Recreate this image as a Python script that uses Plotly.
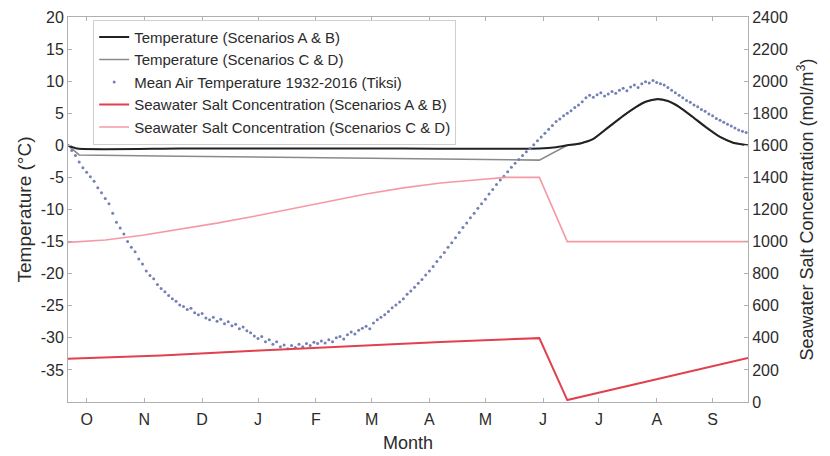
import plotly.graph_objects as go

# ---- data (x in days since 1 October) ----
month_tick_days = [10, 41, 72, 102, 133, 163, 194, 224, 255, 285, 316, 346]
month_labels = ["O", "N", "D", "J", "F", "M", "A", "M", "J", "J", "A", "S"]

temp_ticks = [-35, -30, -25, -20, -15, -10, -5, 0, 5, 10, 15, 20]
temp_tick_text = ["-35", "-30", "-25", "-20", "-15", "-10", "-5", "0", "5", "10", "15", "20"]

temp_ab_days = [0, 5, 60, 120, 180, 253, 262, 268, 275, 282, 290, 298, 305, 310, 316, 322, 328, 335, 342, 350, 357, 365]
temp_ab_vals = [0.0, -0.5, -0.5, -0.5, -0.5, -0.5, -0.3, 0.0, 0.3, 1.0, 2.8, 4.6, 6.0, 6.8, 7.2, 6.9, 6.0, 4.5, 2.9, 1.3, 0.4, 0.0]

temp_cd_days = [0, 6, 60, 120, 180, 253, 268, 275, 282, 290, 298, 305, 310, 316, 322, 328, 335, 342, 350, 357, 365]
temp_cd_vals = [0.0, -1.5, -1.7, -1.9, -2.1, -2.3, 0.0, 0.3, 1.0, 2.8, 4.6, 6.0, 6.8, 7.2, 6.9, 6.0, 4.5, 2.9, 1.3, 0.4, 0.0]

air_days = list(range(0, 365, 2))
air_vals = [
    0.0, -0.8, -1.6, -2.6, -3.5, -4.2, -4.9, -5.6, -6.6, -7.4,
    -8.3, -9.1, -10.6, -12.0, -12.9, -13.8, -15.0, -15.9, -16.6, -17.7,
    -18.5, -19.6, -20.3, -20.8, -21.7, -22.3, -22.8, -23.4, -23.9, -24.3,
    -24.9, -25.1, -25.6, -25.4, -26.1, -26.4, -26.2, -26.9, -27.2, -26.8,
    -27.4, -27.1, -27.8, -27.5, -28.1, -27.9, -28.6, -28.3, -28.9, -29.2,
    -29.7, -30.1, -29.8, -30.6, -30.3, -31.0, -30.6, -31.4, -31.1, -31.7,
    -31.2, -31.5, -31.0, -31.4, -30.9, -31.2, -30.7, -30.9, -30.5, -30.8,
    -30.3, -30.6, -30.0, -29.8, -30.2, -29.5, -29.1, -29.4, -28.8, -28.5,
    -28.2, -28.6, -27.7, -27.2, -26.8, -26.4, -25.9, -25.3, -24.9, -24.4,
    -23.9, -23.2, -22.7, -22.1, -21.5, -20.9, -20.2, -19.6, -18.9, -18.1,
    -17.4, -16.7, -15.9, -15.2, -14.4, -13.6, -12.8, -12.1, -11.3, -10.6,
    -9.8, -9.1, -8.4, -7.6, -6.9, -6.1, -5.4, -4.8, -4.1, -3.4,
    -2.8, -2.2, -1.6, -1.0, -0.5, 0.1, 0.7, 1.3, 1.9, 2.5,
    3.1, 3.7, 4.1, 4.6, 5.0, 5.4, 5.9, 6.3, 6.8, 7.4,
    7.8, 7.5, 7.9, 8.2, 7.7, 8.0, 8.4, 8.1, 8.6, 8.9,
    8.5, 9.1, 9.4, 9.0, 9.6, 9.9, 9.7, 10.1, 9.8, 9.6,
    9.4, 9.0, 8.6, 8.2, 7.8, 7.4, 7.0, 6.7, 6.3, 6.0,
    5.6, 5.3, 4.9, 4.6, 4.2, 3.9, 3.6, 3.3, 3.0, 2.7,
    2.4, 2.2, 2.0,
]

salt_ab_days = [0, 50, 100, 150, 200, 253, 268, 365]
salt_ab_vals = [270, 290, 320, 348, 374, 398, 12, 275]

salt_cd_days = [0, 20, 40, 60, 80, 100, 120, 140, 160, 180, 200, 220, 235, 253, 268, 365]
salt_cd_vals = [995, 1010, 1040, 1078, 1115, 1158, 1205, 1252, 1297, 1335, 1365, 1385, 1400, 1400, 1000, 1000]

FONT = "Arial, 'Liberation Sans', Helvetica, sans-serif"
AX = "#b0b0b0"
TXT = "#2b2b2b"

fig = go.Figure()
fig.add_trace(go.Scatter(x=temp_cd_days, y=temp_cd_vals, mode="lines", name="Temperature (Scenarios C & D)",
                         line=dict(color="#8a8a8a", width=1.6), legendrank=2))
fig.add_trace(go.Scatter(x=temp_ab_days, y=temp_ab_vals, mode="lines", name="Temperature (Scenarios A & B)",
                         line=dict(color="#222222", width=2, shape="spline", smoothing=0.6), legendrank=1))
fig.add_trace(go.Scatter(x=air_days, y=air_vals, mode="markers", name="Mean Air Temperature 1932-2016 (Tiksi)",
                         marker=dict(color="#7480b5", size=3), legendrank=3))
fig.add_trace(go.Scatter(x=salt_ab_days, y=salt_ab_vals, mode="lines", name="Seawater Salt Concentration (Scenarios A & B)",
                         line=dict(color="#e2404e", width=2), yaxis="y2", legendrank=4))
fig.add_trace(go.Scatter(x=salt_cd_days, y=salt_cd_vals, mode="lines", name="Seawater Salt Concentration (Scenarios C & D)",
                         line=dict(color="#f59aa4", width=1.6), yaxis="y2", legendrank=5))

fig.update_layout(
    width=830, height=456,
    margin=dict(l=68, r=82, t=17, b=54, autoexpand=False),
    paper_bgcolor="white", plot_bgcolor="white",
    font=dict(family=FONT, size=16, color=TXT),
    showlegend=True,
    legend=dict(x=0.037, y=0.993, xanchor="left", yanchor="top",
                bgcolor="white", bordercolor="#cfcfcf", borderwidth=1,
                font=dict(size=15, color=TXT), tracegroupgap=0, itemwidth=30),
    xaxis=dict(range=[0, 365], tickvals=month_tick_days, ticktext=month_labels,
               showline=True, linecolor=AX, mirror="ticks", ticks="inside", ticklen=4, tickcolor=AX,
               showgrid=False, zeroline=False, ticklabelstandoff=3, automargin=False,
               title=dict(text="Month", standoff=9, font=dict(size=18)),
               tickfont=dict(size=16)),
    yaxis=dict(range=[-40, 20], tickvals=temp_ticks, ticktext=temp_tick_text,
               showline=True, linecolor=AX, ticks="inside", ticklen=4, tickcolor=AX,
               showgrid=False, zeroline=False, automargin=False,
               title=dict(text="Temperature (°C)", standoff=4, font=dict(size=19)),
               tickfont=dict(size=16)),
    yaxis2=dict(range=[0, 2400], dtick=200, overlaying="y", side="right",
                showline=True, linecolor=AX, ticks="inside", ticklen=4, tickcolor=AX,
                showgrid=False, zeroline=False, automargin=False,
                title=dict(text="Seawater Salt Concentration (mol/m<sup>3</sup>)", standoff=13, font=dict(size=18)),
                tickfont=dict(size=16)),
)

fig.write_html("out.html")
